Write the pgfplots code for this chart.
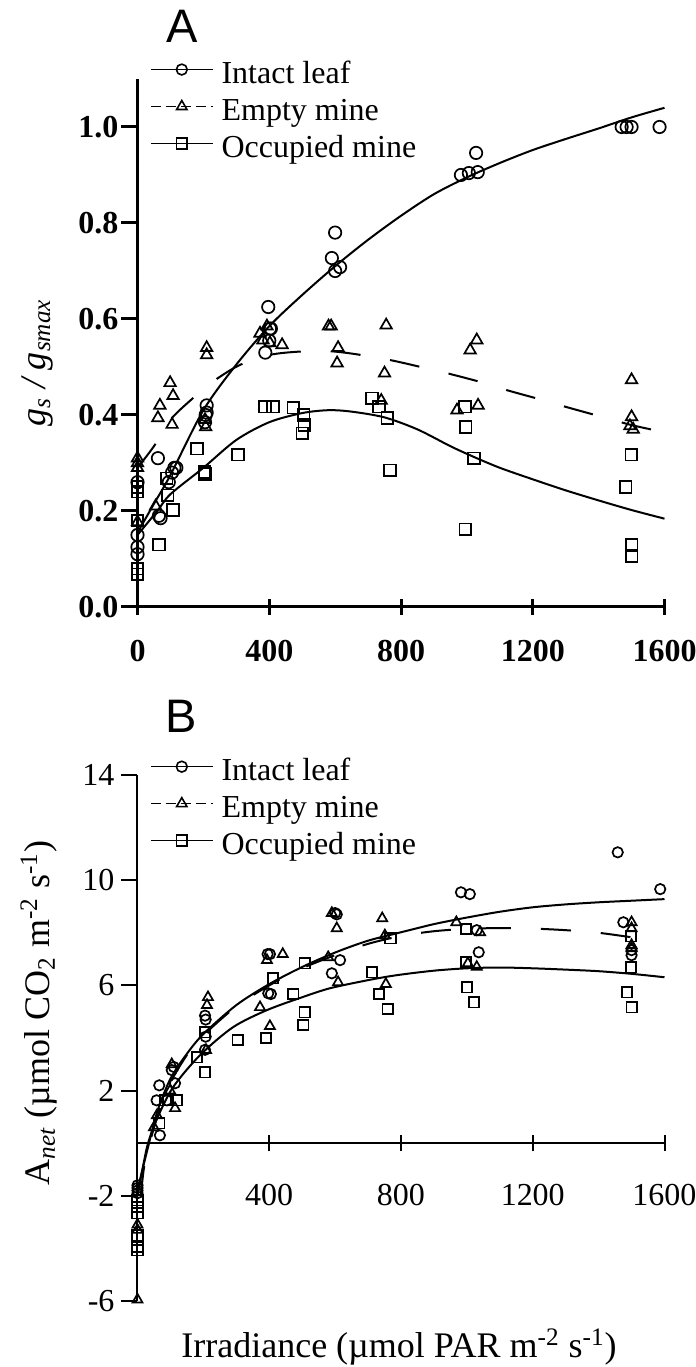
\documentclass[border=0pt]{standalone}
\usepackage{fontspec}
\setmainfont{Liberation Serif}
\newfontfamily\arialfont{Liberation Sans}
\usepackage{pgfplots}
\pgfplotsset{compat=1.18}

% panel A: gs/gsmax
\pgfplotstableread{
x y
0 0.26
0 0.15
0 0.125
0 0.11
62 0.31
65 0.19
70 0.185
95 0.26
105 0.28
112 0.29
118 0.29
205 0.385
207 0.40
210 0.405
210 0.42
388 0.53
397 0.625
400 0.555
402 0.58
405 0.58
590 0.727
600 0.78
600 0.70
615 0.708
982 0.90
1006 0.904
1033 0.906
1028 0.946
1470 1.0
1485 1.0
1500 1.0
1585 1.0
}\Aintact
\pgfplotstableread{
x y
0 0.31
0 0.30
0 0.29
0 0.177
55 0.21
62 0.394
68 0.42
99 0.467
108 0.44
105 0.38
210 0.54
210 0.525
205 0.39
207 0.375
372 0.57
393 0.585
381 0.556
402 0.55
439 0.546
580 0.585
588 0.585
609 0.54
606 0.508
740 0.43
750 0.487
755 0.587
970 0.41
1010 0.535
1030 0.556
1034 0.42
1500 0.473
1500 0.396
1495 0.377
1505 0.37
}\Aempty
\pgfplotstableread{
x y
0 0.25
0 0.24
0 0.18
0 0.08
0 0.068
65 0.13
89 0.268
92 0.233
108 0.202
181 0.33
203 0.281
205 0.277
305 0.317
387 0.417
411 0.417
473 0.415
505 0.40
506 0.379
500 0.362
712 0.435
733 0.417
758 0.394
767 0.285
994 0.417
996 0.375
1022 0.31
995 0.162
1499 0.317
1482 0.25
1500 0.129
1500 0.106
}\Aoccupied

% panel B: Anet
\pgfplotstableread{
x y
0 -1.6
0 -1.7
0 -1.8
0 -1.9
68 0.3
66 2.2
58 1.63
89 1.63
104 2.78
110 2.9
114 2.28
205 4.85
207 4.7
207 4.05
205 3.55
395 7.19
402 7.19
397 5.7
405 5.67
600 8.75
605 8.7
590 6.46
615 6.96
982 9.54
1009 9.47
1030 8.1
1036 7.26
1458 11.06
1587 9.66
1475 8.4
1500 7.34
1500 7.15
}\Bintact
\pgfplotstableread{
x y
0 -3.1
0 -3.3
0 -5.95
50 0.6
59 1.06
99 2.0
104 3.0
114 1.33
214 5.55
211 5.25
208 3.54
372 5.17
393 6.96
441 7.19
402 4.45
590 8.75
605 8.17
579 7.07
609 6.12
743 8.55
751 7.9
754 6.05
968 8.4
1003 6.84
1030 6.7
1040 8.02
1500 8.4
1500 8.17
1500 7.53
1500 7.41
}\Bempty
\pgfplotstableread{
x y
0 -2.17
0 -2.43
0 -2.66
0 -3.5
0 -3.95
0 -4.07
66 0.76
84 1.63
93 1.63
119 1.63
181 3.27
205 4.22
205 2.7
304 3.92
390 4.0
411 6.27
473 5.67
508 4.98
503 4.49
508 6.84
712 6.5
733 5.67
760 5.1
768 7.79
997 8.14
997 6.88
1000 5.93
1022 5.36
1498 7.87
1498 6.69
1486 5.74
1500 5.17
}\Boccupied

\begin{document}
\begin{tikzpicture}
\path[use as bounding box] (0pt,0pt) rectangle (348pt,683.5pt);

\pgfplotsset{
  panel/.style={
    scale only axis, width=263.5pt,
    xmin=0, xmax=1600, clip=false,
    axis y line=left,
    tick align=outside, major tick length=8pt,
    minor tick num=0,
    ticklabel style={font=\fontsize{16}{19}\selectfont},
    legend cell align=left,
    legend image code/.code={\draw[mark repeat=2,mark phase=2,##1]
      plot coordinates {(0pt,3pt)(15.5pt,3pt)(31pt,3pt)};},
    legend style={draw=none, fill=none, inner sep=0pt, outer sep=0pt,
      row sep=4pt, column sep=4pt,
      nodes={inner sep=0pt, text height=11pt, text depth=3.5pt},
      font=\fontsize{16}{19}\selectfont},
  },
  dat/.style={only marks, black, mark options={solid, fill=white, line width=0.85pt}},
  fit/.style={black, line width=1pt, no marks, smooth},
}

% ---------- panel A ----------
\begin{axis}[panel,
  at={(68.75pt,380pt)}, anchor=south west,
  height=264pt, ymin=0, ymax=1.1,
  axis x line=bottom,
  x axis line style={-}, y axis line style={-},
  axis line style={line width=1.5pt}, every tick/.style={line width=1.5pt, black},
  xtick={0,400,800,1200,1600}, xticklabels={0,400,800,1200,1600},
  ytick={0,0.2,0.4,0.6,0.8,1.0}, yticklabels={0.0,0.2,0.4,0.6,0.8,1.0},
  ticklabel style={font=\fontsize{16}{19}\selectfont\bfseries},
  xticklabel style={yshift=-9pt},
  yticklabel style={xshift=2pt},
  legend style={at={(0.0237,1.034)}, anchor=north west},
]
\addlegendimage{black, line width=0.8pt, mark=o, mark size=2.7pt, mark options={solid, fill=white}}
\addlegendentry{Intact leaf}
\addlegendimage{black, line width=0.8pt, dash pattern=on 5pt off 2.5pt, mark=triangle, mark size=3pt, mark options={solid, fill=white}}
\addlegendentry{Empty mine}
\addlegendimage{black, line width=0.8pt, mark=square, mark size=2.7pt, mark options={solid, fill=white}}
\addlegendentry{Occupied mine}

\addplot[fit, forget plot] coordinates {(0,0.155)(50,0.215)(100,0.275)(200,0.41)(300,0.505)(400,0.585)(500,0.65)(600,0.71)(700,0.765)(800,0.815)(900,0.86)(1000,0.895)(1100,0.925)(1200,0.952)(1300,0.975)(1400,0.997)(1500,1.02)(1600,1.04)};
\addplot[fit, forget plot, dash pattern=on 15pt off 15pt] coordinates {(0,0.29)(50,0.335)(100,0.39)(160,0.43)(230,0.47)(310,0.504)(400,0.525)(490,0.532)(580,0.533)(660,0.527)(770,0.514)(860,0.5)(940,0.487)(1040,0.469)(1120,0.452)(1220,0.433)(1300,0.417)(1400,0.398)(1500,0.379)(1580,0.367)};
\addplot[fit, forget plot] coordinates {(0,0.15)(60,0.2)(100,0.235)(200,0.29)(300,0.348)(400,0.385)(500,0.404)(580,0.41)(650,0.407)(750,0.395)(850,0.37)(950,0.335)(1020,0.313)(1100,0.29)(1200,0.266)(1300,0.243)(1400,0.222)(1500,0.202)(1600,0.184)};

\addplot[dat, mark=o, mark size=3.1pt, forget plot] table {\Aintact};
\addplot[dat, mark=triangle, mark size=3.3pt, forget plot] table {\Aempty};
\addplot[dat, mark=square, mark size=2.9pt, forget plot] table {\Aoccupied};
\end{axis}

% ---------- panel B ----------
\begin{axis}[panel,
  at={(68.75pt,33pt)}, anchor=south west,
  height=263pt, ymin=-6, ymax=14,
  axis x line=middle,
  x axis line style={-}, y axis line style={-},
  axis line style={line width=1pt}, every tick/.style={line width=1pt, black},
  xtick={400,800,1200,1600}, xticklabels={400,800,1200,1600},
  ytick={-6,-2,2,6,10,14}, yticklabels={-6,-2,2,6,10,14},
  xticklabel style={yshift=-13pt},
  legend style={at={(0.0237,1.032)}, anchor=north west},
]
\addlegendimage{black, line width=0.8pt, mark=o, mark size=2.7pt, mark options={solid, fill=white}}
\addlegendentry{Intact leaf}
\addlegendimage{black, line width=0.8pt, dash pattern=on 5pt off 2.5pt, mark=triangle, mark size=3pt, mark options={solid, fill=white}}
\addlegendentry{Empty mine}
\addlegendimage{black, line width=0.8pt, mark=square, mark size=2.7pt, mark options={solid, fill=white}}
\addlegendentry{Occupied mine}

\addplot[fit, forget plot] coordinates {(0,-1.8)(15,-1.0)(30,-0.25)(60,1.2)(100,2.45)(150,3.4)(200,4.15)(300,5.25)(400,6.05)(500,6.7)(600,7.25)(700,7.7)(800,8.02)(900,8.33)(1000,8.58)(1100,8.8)(1200,8.97)(1300,9.08)(1400,9.16)(1500,9.22)(1600,9.28)};
\addplot[fit, forget plot, dash pattern=on 15pt off 15pt] coordinates {(10,-2.0)(20,-0.9)(35,-0.1)(60,1.0)(100,2.3)(150,3.35)(200,4.1)(300,5.2)(400,6.0)(500,6.65)(600,7.15)(700,7.58)(800,7.88)(900,8.06)(1000,8.15)(1100,8.18)(1200,8.16)(1300,8.1)(1400,8.0)(1500,7.83)(1530,7.78)};
\addplot[fit, forget plot] coordinates {(0,-2.0)(15,-1.0)(32,0)(60,0.95)(108,2.13)(190,3.35)(290,4.41)(393,5.06)(500,5.55)(584,5.89)(700,6.2)(788,6.39)(900,6.56)(1000,6.65)(1100,6.68)(1200,6.65)(1300,6.6)(1400,6.54)(1500,6.44)(1600,6.31)};

\addplot[dat, mark=o, mark size=2.6pt, forget plot] table {\Bintact};
\addplot[dat, mark=triangle, mark size=2.9pt, forget plot] table {\Bempty};
\addplot[dat, mark=square, mark size=2.6pt, forget plot] table {\Boccupied};
\end{axis}

% panel letters and axis titles
\node[font=\arialfont\fontsize{23.5}{28}\selectfont] at (91pt,670.5pt) {A};
\node[font=\arialfont\fontsize{23.5}{28}\selectfont] at (90.5pt,325.5pt) {B};
\node[rotate=90, font=\fontsize{18}{21}\selectfont] at (18.5pt,502pt)
  {\itshape g\textsubscript{s} / g\textsubscript{smax}};
\node[rotate=90, font=\fontsize{18}{21}\selectfont] at (19.5pt,177pt)
  {A\textsubscript{\itshape net} (µmol CO\textsubscript{2} m\textsuperscript{-2} s\textsuperscript{-1})};
\node[font=\fontsize{18}{21}\selectfont] at (199.5pt,10pt)
  {Irradiance (µmol PAR m\textsuperscript{-2} s\textsuperscript{-1})};
\end{tikzpicture}
\end{document}
